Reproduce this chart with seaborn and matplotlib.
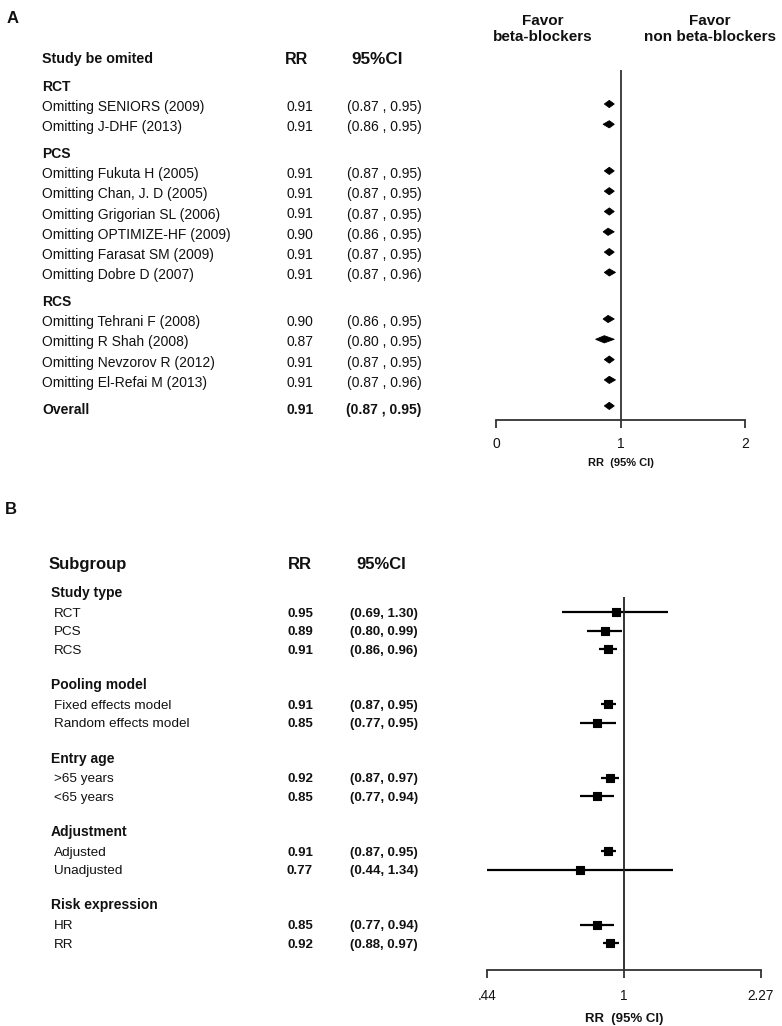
import numpy as np
import pandas as pd
import matplotlib
matplotlib.use("Agg")
import matplotlib.pyplot as plt
import seaborn as sns

# ---- panel A: leave-one-out sensitivity analysis ----
omit_groups = ["RCT", "RCT", "PCS", "PCS", "PCS", "PCS", "PCS", "PCS",
               "RCS", "RCS", "RCS", "RCS"]
omit_studies = ["Omitting SENIORS (2009)", "Omitting J-DHF (2013)",
                "Omitting Fukuta H (2005)", "Omitting Chan, J. D (2005)",
                "Omitting Grigorian SL (2006)", "Omitting OPTIMIZE-HF (2009)",
                "Omitting Farasat SM (2009)", "Omitting Dobre D (2007)",
                "Omitting Tehrani F (2008)", "Omitting R Shah (2008)",
                "Omitting Nevzorov R (2012)", "Omitting El-Refai M (2013)"]
omit_rr = [0.91, 0.91, 0.91, 0.91, 0.91, 0.90, 0.91, 0.91, 0.90, 0.87, 0.91, 0.91]
omit_lo = [0.87, 0.86, 0.87, 0.87, 0.87, 0.86, 0.87, 0.87, 0.86, 0.80, 0.87, 0.87]
omit_hi = [0.95, 0.95, 0.95, 0.95, 0.95, 0.95, 0.95, 0.96, 0.95, 0.95, 0.95, 0.96]
overall = (0.91, 0.87, 0.95)
a_ticks = [0, 1, 2]

# ---- panel B: subgroup analysis ----
sub_groups = ["Study type"] * 3 + ["Pooling model"] * 2 + ["Entry age"] * 2 + \
             ["Adjustment"] * 2 + ["Risk expression"] * 2
sub_labels = ["RCT", "PCS", "RCS", "Fixed effects model", "Random effects model",
              ">65 years", "<65 years", "Adjusted", "Unadjusted", "HR", "RR"]
sub_rr = [0.95, 0.89, 0.91, 0.91, 0.85, 0.92, 0.85, 0.91, 0.77, 0.85, 0.92]
sub_lo = [0.69, 0.80, 0.86, 0.87, 0.77, 0.87, 0.77, 0.87, 0.44, 0.77, 0.88]
sub_hi = [1.30, 0.99, 0.96, 0.95, 0.95, 0.97, 0.94, 0.95, 1.34, 0.94, 0.97]
b_ticks = [0.44, 1, 2.27]
b_ticklabels = [".44", "1", "2.27"]

W, H = 782, 1026


def layout(groups, y0, head_step, item_step, group_gap):
    # pixel y (top-down) of group headers and item rows
    heads, items = [], []
    y = y0
    prev = None
    for g in groups:
        if g != prev:
            if prev is not None:
                y += item_step + group_gap
            heads.append((g, y))
            y += head_step
            prev = g
        else:
            y += item_step
        items.append(y)
    return heads, items, y


def add_axes_px(fig, x0, y0, x1, y1):
    return fig.add_axes([x0 / W, 1 - y1 / H, (x1 - x0) / W, (y1 - y0) / H])


sns.set_theme(style="white")
plt.rcParams["font.family"] = ["Liberation Sans", "DejaVu Sans"]
ink = "#111111"

fig = plt.figure(figsize=(W / 100, H / 100), dpi=100)
bg = fig.add_axes([0, 0, 1, 1])
bg.set_xlim(0, W)
bg.set_ylim(H, 0)
bg.axis("off")


def txt(x, y, s, size, bold=False, ha="left"):
    # y is the visual centre of capitals; place on baseline for consistency
    bg.text(x, y + size * 0.5, s, fontsize=size, fontweight="bold" if bold else "normal",
            va="baseline", ha=ha, color=ink)


# ================= Panel A =================
txt(7, 17, "A", 12, True)
txt(42, 58, "Study be omited", 10.3, True)
txt(297, 58, "RR", 11.5, True, "center")
txt(377, 58, "95%CI", 12.3, True, "center")
bg.text(543, 29, "Favor\nbeta-blockers", fontsize=11, fontweight="bold",
        ha="center", va="center", linespacing=1.1, color=ink)
bg.text(710, 29, "Favor\nnon beta-blockers", fontsize=11, fontweight="bold",
        ha="center", va="center", linespacing=1.1, color=ink)

a_heads, a_y, last = layout(omit_groups, 86, 20, 20.3, 6.3)
overall_y = last + 27
for g, y in a_heads:
    txt(42, y, g, 10, True)
for name, rr, lo, hi, y in zip(omit_studies, omit_rr, omit_lo, omit_hi, a_y):
    txt(42, y, name, 10)
    txt(300, y, f"{rr:.2f}", 10, ha="center")
    txt(384, y, f"({lo:.2f} , {hi:.2f})", 10, ha="center")
txt(42, overall_y, "Overall", 10, True)
txt(300, overall_y, f"{overall[0]:.2f}", 10, True, "center")
txt(384, overall_y, f"({overall[1]:.2f} , {overall[2]:.2f})", 10, True, "center")

axA = add_axes_px(fig, 496, 70, 745, 420)
axA.set_xlim(0, 2)
axA.set_ylim(420, 70)
axA.patch.set_alpha(0)
dfA = pd.DataFrame({"rr": omit_rr + [overall[0]], "lo": omit_lo + [overall[1]],
                    "hi": omit_hi + [overall[2]], "y": [y - 2 for y in a_y] + [overall_y - 3]})
for _, r in dfA.iterrows():
    axA.fill([r.lo, r.rr, r.hi, r.rr], [r.y, r.y - 3.6, r.y, r.y + 3.6],
             color="black", lw=0.6, ec="black")
axA.axvline(1, color="#333333", lw=1.3)
axA.set_xticks(a_ticks)
axA.set_xticklabels([str(t) for t in a_ticks], fontsize=10)
axA.set_yticks([])
for s in ["top", "left", "right"]:
    axA.spines[s].set_visible(False)
axA.spines["bottom"].set_color("#333333")
axA.spines["bottom"].set_linewidth(1.3)
axA.tick_params(axis="x", direction="out", length=5.5, width=1.3, color="#333333",
                pad=6.5, labelcolor=ink, bottom=True)
axA.set_xlabel("RR  (95% CI)", fontsize=8, fontweight="bold", labelpad=5, color=ink)

# ================= Panel B =================
txt(5, 508, "B", 12, True)
txt(49, 563, "Subgroup", 12, True)
txt(300, 563, "RR", 12, True, "center")
txt(381, 563, "95%CI", 12, True, "center")

b_heads, b_y, _ = layout(sub_groups, 592, 20, 18.5, 16.5)
for g, y in b_heads:
    txt(51, y, g, 10, True)
for name, rr, lo, hi, y in zip(sub_labels, sub_rr, sub_lo, sub_hi, b_y):
    txt(54, y, name, 9.7)
    txt(300, y, f"{rr:.2f}", 9.5, True, "center")
    txt(384, y, f"({lo:.2f}, {hi:.2f})", 9.5, True, "center")

axB = add_axes_px(fig, 487, 597, 761, 970)
axB.set_xscale("log")
axB.set_xlim(b_ticks[0], b_ticks[-1])
axB.set_ylim(970, 597)
axB.patch.set_alpha(0)
dfB = pd.DataFrame({"label": sub_labels, "rr": sub_rr, "lo": sub_lo, "hi": sub_hi, "y": b_y})
axB.hlines(dfB["y"], dfB["lo"], dfB["hi"], color="black", lw=1.6)
sns.scatterplot(data=dfB, x="rr", y="y", marker="s", s=38, color="black",
                edgecolor="black", linewidth=0.8, ax=axB, legend=False, zorder=3)
axB.axvline(1, color="#222222", lw=1.3)
axB.set_xticks(b_ticks)
axB.set_xticklabels(b_ticklabels, fontsize=9.8)
axB.minorticks_off()
axB.set_yticks([])
axB.set_ylabel("")
for s in ["top", "left", "right"]:
    axB.spines[s].set_visible(False)
axB.spines["bottom"].set_color("#333333")
axB.spines["bottom"].set_linewidth(1.3)
axB.tick_params(axis="x", direction="out", length=6, width=1.3, color="#333333",
                pad=8, labelcolor=ink, bottom=True)
axB.set_xlabel("RR  (95% CI)", fontsize=9.5, fontweight="bold", labelpad=7, color=ink)

fig.savefig("out.png", dpi=100)
